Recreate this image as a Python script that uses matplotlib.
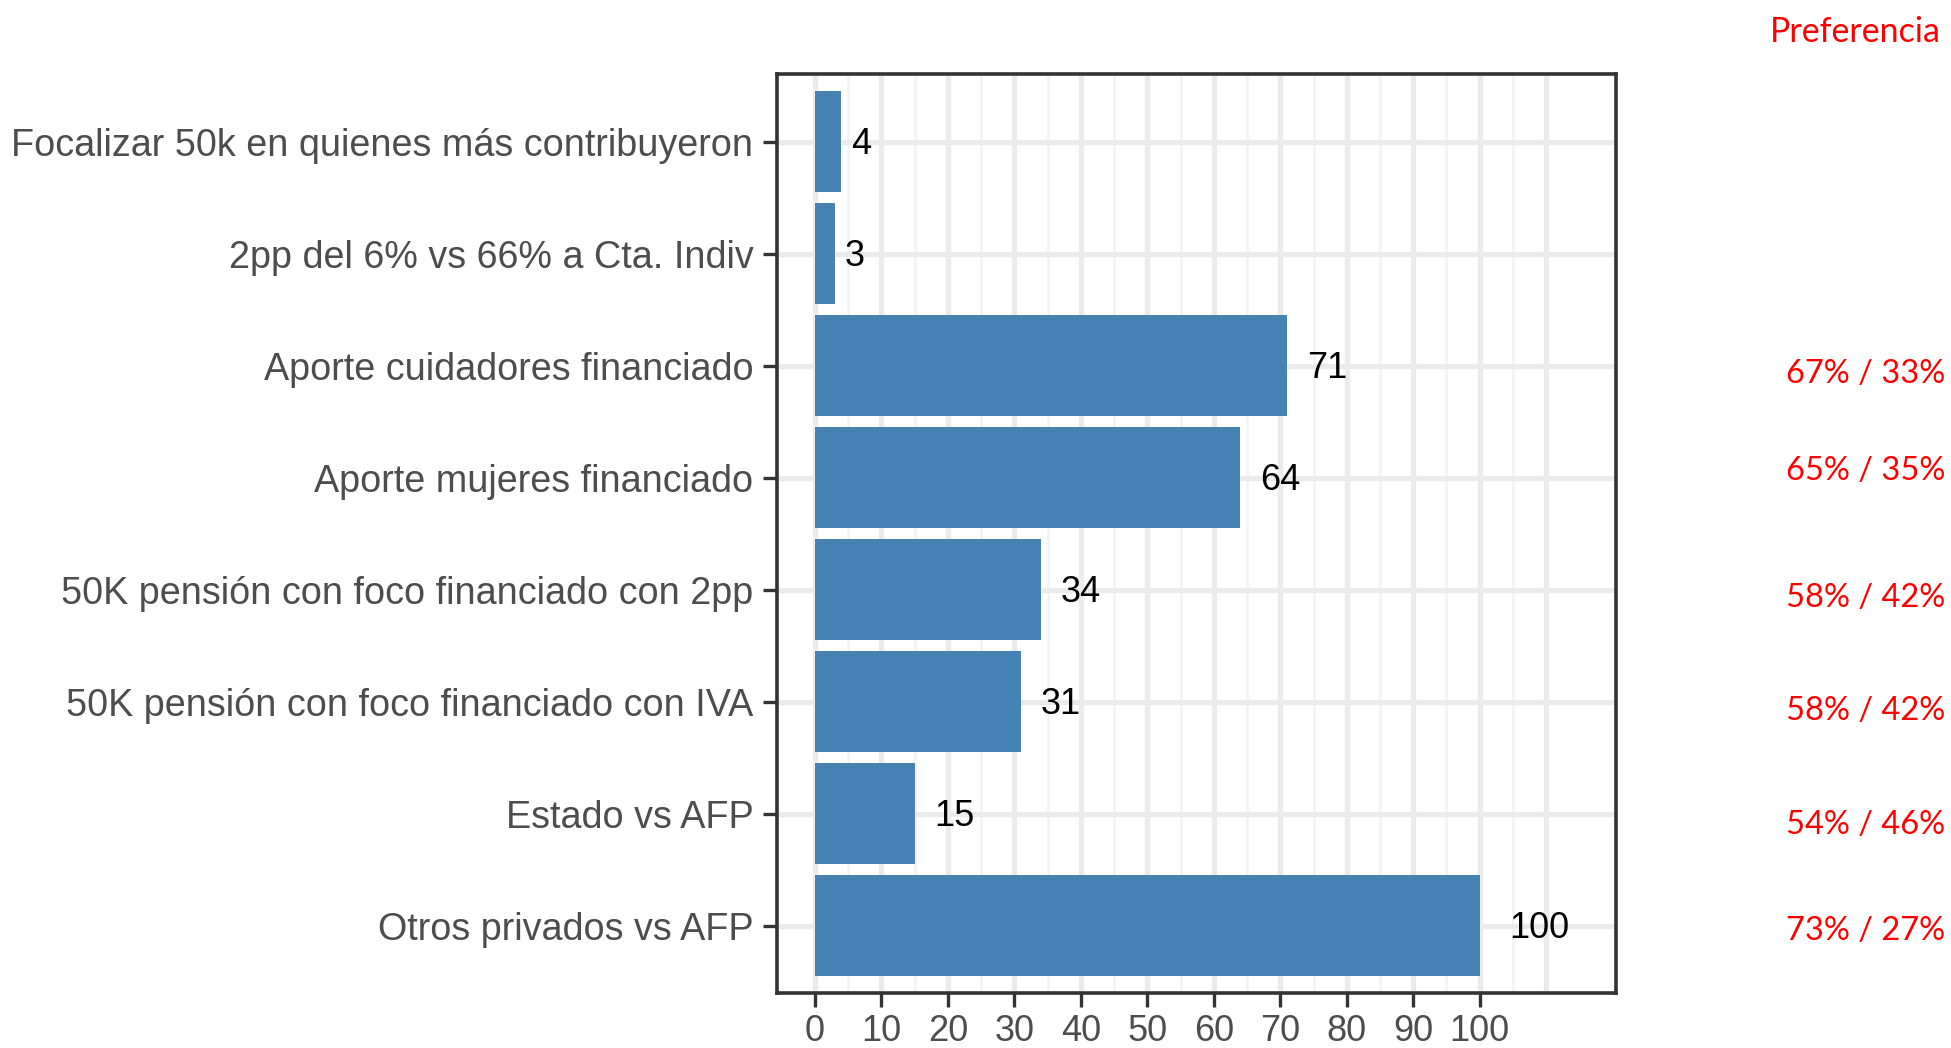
import matplotlib
matplotlib.use("Agg")
import matplotlib.pyplot as plt
from matplotlib.transforms import blended_transform_factory
import numpy as np

categories = [
    "Focalizar 50k en quienes más contribuyeron",
    "2pp del 6% vs 66% a Cta. Indiv",
    "Aporte cuidadores financiado",
    "Aporte mujeres financiado",
    "50K pensión con foco financiado con 2pp",
    "50K pensión con foco financiado con IVA",
    "Estado vs AFP",
    "Otros privados vs AFP",
]
values = [4, 3, 71, 64, 34, 31, 15, 100]
preferences = ["", "", "67% / 33%", "65% / 35%", "58% / 42%", "58% / 42%", "54% / 46%", "73% / 27%"]
pref_nudge = [0, 0, 0.07, -0.06, 0.07, 0.08, 0.1, 0.045]
x_ticks = [0, 10, 20, 30, 40, 50, 60, 70, 80, 90, 100]
pref_title = "Preferencia"

W, H = 1951, 1048
fig = plt.figure(figsize=(W / 100, H / 100), dpi=100)
left, right, top, bottom = 777, 1616, 74.5, 993
ax = fig.add_axes([left / W, 1 - bottom / H, (right - left) / W, (bottom - top) / H])

y = np.arange(len(categories))
ax.barh(y, values, height=0.9, color="#4682B4", zorder=3)
ax.set_ylim(len(categories) - 0.4, -0.6)
ax.set_xlim(-5.7, 120.5)

# grid (ggplot-like)
for v in range(0, 111, 10):
    ax.axvline(v, color="#EBEBEB", lw=3.8, zorder=1)
for v in range(5, 110, 10):
    ax.axvline(v, color="#F3F3F3", lw=1.8, zorder=1)
for yy in y:
    ax.axhline(yy, color="#EBEBEB", lw=3.8, zorder=1)

# value labels
for i, v in enumerate(values):
    ax.text(v + 3 * len(str(v)), i + 0.025, str(v), ha="center", va="center",
            fontsize=26, color="black", family="Liberation Sans", zorder=4)

ax.set_xticks(x_ticks)
ax.set_xticklabels([str(t) for t in x_ticks])
ax.set_yticks(y)
ax.set_yticklabels(categories)
for lab in ax.get_xticklabels() + ax.get_yticklabels():
    lab.set_family("Liberation Sans")
ax.tick_params(axis="both", length=10, width=2.4, color="#333333",
               labelcolor="#4D4D4D")
ax.tick_params(axis="y", labelsize=27.2, pad=7)
ax.tick_params(axis="x", labelsize=26, pad=5)
for s in ax.spines.values():
    s.set_linewidth(2.6)
    s.set_color("#333333")
    s.set_zorder(5)

# red annotations
trans = blended_transform_factory(fig.transFigure, ax.transData)
for i, p in enumerate(preferences):
    if p:
        fig.text(1945 / W, i + pref_nudge[i], p, transform=trans, ha="right", va="center",
                 fontsize=23.5, color="#FF0000", family="Lato")
fig.text(1941 / W, 1 - 31.5 / H, pref_title, ha="right", va="center",
         fontsize=24.5, color="#FF0000", family="Lato")

fig.savefig("out.png", dpi=100, facecolor="white")
